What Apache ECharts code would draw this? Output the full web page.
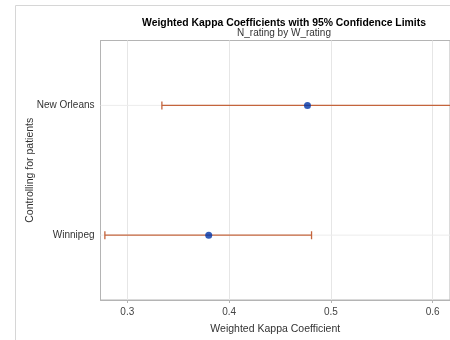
<!DOCTYPE html>
<html>
<head>
<meta charset="utf-8">
<script src="https://cdn.jsdelivr.net/npm/echarts@6/dist/echarts.min.js"></script>
<style>
  html, body { margin: 0; padding: 0; background: #fff; }
  #chart { width: 450px; height: 340px; }
</style>
</head>
<body>
<div id="chart"></div>
<script>
// Strata and their weighted kappa estimates with 95% confidence limits
const strata = ['New Orleans', 'Winnipeg'];
const kappa = [0.477, 0.380];
const lowerCL = [0.334, 0.278];
const upperCL = [0.620, 0.481];
const xTicks = [0.3, 0.4, 0.5, 0.6];

const FONT = '"Liberation Sans", Arial, sans-serif';
const barColor = '#c4643c';
const dotColor = '#0035a8';

const chart = echarts.init(document.getElementById('chart'));

const intervalData = strata.map((s, i) => [i, lowerCL[i], upperCL[i]]);
const pointData = strata.map((s, i) => [kappa[i], i]);

chart.setOption({
  animation: false,
  title: {
    text: 'Weighted Kappa Coefficients with 95% Confidence Limits',
    subtext: 'N_rating by W_rating',
    left: 279,
    top: 13,
    textAlign: 'center',
    itemGap: 0,
    textStyle: { fontFamily: FONT, fontSize: 10.4, fontWeight: 'bold', color: '#000' },
    subtextStyle: { fontFamily: FONT, fontSize: 10, color: '#333' }
  },
  graphic: [{
    type: 'polyline',
    shape: { points: [[15.5, 340], [15.5, 5.5], [450, 5.5]] },
    style: { stroke: '#d6d6d6', lineWidth: 1, fill: null },
    silent: true,
    z: -1
  }],
  grid: {
    left: 100.5, top: 40.5, right: -2, bottom: 38.5,
    show: true, borderColor: '#b4b4b4', borderWidth: 1, backgroundColor: 'transparent'
  },
  xAxis: {
    type: 'value',
    min: 0.2737,
    max: 0.617,
    name: 'Weighted Kappa Coefficient',
    nameLocation: 'middle',
    nameGap: 24,
    nameMoveOverlap: false,
    nameTextStyle: { fontFamily: FONT, fontSize: 10.5, color: '#333' },
    axisLine: { show: true, lineStyle: { color: '#b4b4b4' } },
    axisTick: { show: true, length: 3, customValues: xTicks, lineStyle: { color: '#b4b4b4' } },
    axisLabel: {
      customValues: xTicks,
      margin: 7,
      fontFamily: FONT, fontSize: 10, color: '#444',
      formatter: v => v.toFixed(1)
    },
    splitLine: { show: true, lineStyle: { color: '#e6e6e6', width: 1 } }
  },
  yAxis: {
    type: 'category',
    data: strata,
    inverse: true,
    boundaryGap: true,
    name: 'Controlling for patients',
    nameLocation: 'middle',
    nameRotate: 90,
    nameGap: 65,
    nameMoveOverlap: false,
    nameTextStyle: { fontFamily: FONT, fontSize: 10.5, color: '#333' },
    axisLine: { show: true, lineStyle: { color: '#b4b4b4' } },
    axisTick: { show: false },
    axisLabel: { margin: 6, fontFamily: FONT, fontSize: 10, color: '#333' },
    splitLine: { show: false }
  },
  series: [
    {
      // horizontal reference line through each stratum
      type: 'custom',
      silent: true,
      z: 1,
      renderItem: (params, api) => {
        const y = api.coord([0.3, api.value(0)])[1];
        const cs = params.coordSys;
        return {
          type: 'line',
          shape: { x1: cs.x, y1: y, x2: cs.x + cs.width, y2: y },
          style: { stroke: '#ececec', lineWidth: 1 }
        };
      },
      encode: { y: 0 },
      data: strata.map((s, i) => [i])
    },
    {
      // confidence interval bars with end caps
      type: 'custom',
      clip: true,
      z: 2,
      renderItem: (params, api) => {
        const idx = api.value(0);
        const p1 = api.coord([api.value(1), idx]);
        const p2 = api.coord([api.value(2), idx]);
        const cap = 4;
        const style = { stroke: barColor, lineWidth: 1.3 };
        return {
          type: 'group',
          children: [
            { type: 'line', shape: { x1: p1[0], y1: p1[1], x2: p2[0], y2: p2[1] }, style },
            { type: 'line', shape: { x1: p1[0], y1: p1[1] - cap, x2: p1[0], y2: p1[1] + cap }, style },
            { type: 'line', shape: { x1: p2[0], y1: p2[1] - cap, x2: p2[0], y2: p2[1] + cap }, style }
          ]
        };
      },
      encode: { x: [1, 2], y: 0 },
      data: intervalData
    },
    {
      type: 'scatter',
      z: 3,
      symbol: 'circle',
      symbolSize: 7,
      itemStyle: { color: dotColor },
      data: pointData
    }
  ]
});
</script>
</body>
</html>
